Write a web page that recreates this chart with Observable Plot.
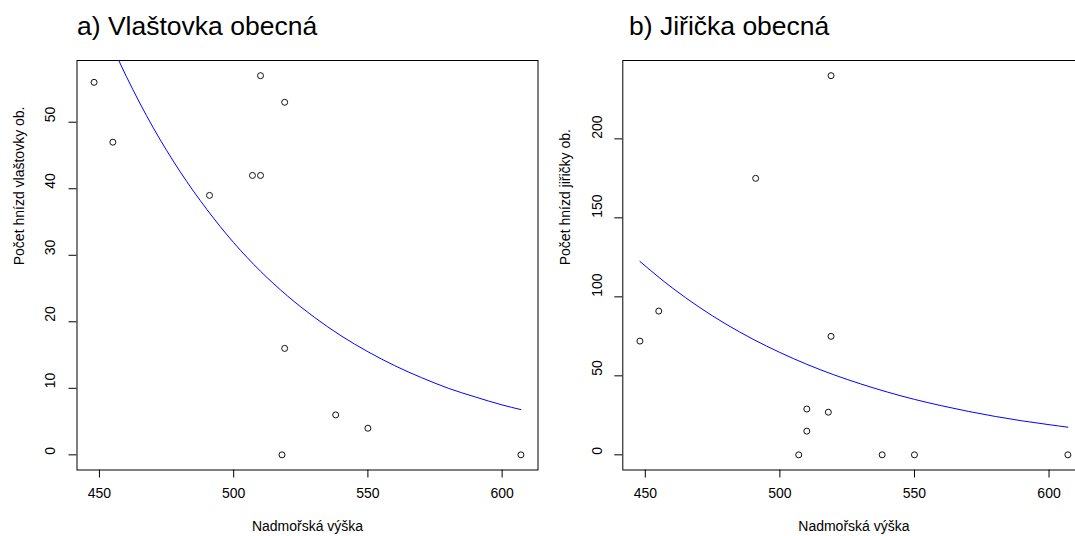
<!DOCTYPE html>
<html>
<head>
<meta charset="utf-8">
<script src="https://cdn.jsdelivr.net/npm/d3@7"></script>
<script src="https://cdn.jsdelivr.net/npm/@observablehq/plot@0.6"></script>
<style>
  html, body { margin: 0; padding: 0; background: #fff; }
  #fig { position: relative; width: 1075px; height: 536px; overflow: hidden; background: #fff;
         font-family: "Liberation Sans", Arial, sans-serif; color: #000; }
  .title { position: absolute; top: 13px; font-size: 26.5px; line-height: 26px; white-space: nowrap; }
  .panel { position: absolute; top: 45px; }
  .panel svg { max-width: none !important; display: block; }
</style>
</head>
<body>
<div id="fig"></div>
<script>
// Altitude of each site (m a.s.l.) and nest counts per species
const altitude     = [448, 455, 491, 507, 510, 510, 518, 519, 519, 538, 550, 607];
const swallowNests = [56, 47, 39, 42, 42, 57, 0, 53, 16, 6, 4, 0];
const martinNests  = [72, 91, 175, 0, 29, 15, 27, 240, 75, 0, 0, 0];

// Fitted exponential trend, sampled along the altitude range
const trendAltitude = [448, 460, 470, 480, 490, 500, 510, 520, 530, 540, 550, 560, 570, 580, 590, 600, 607];
const swallowTrend  = [67.7, 56.9, 49.2, 42.6, 36.9, 31.9, 27.6, 23.9, 20.7, 17.9, 15.5, 13.4, 11.6, 10.0, 8.7, 7.5, 6.8];
const martinTrend   = [122.4, 105.7, 93.5, 82.7, 73.2, 64.8, 57.3, 50.7, 44.9, 39.7, 35.1, 31.1, 27.5, 24.3, 21.5, 19.1, 17.5];

const xTicks = [450, 500, 550, 600];
const swallowTicks = [0, 10, 20, 30, 40, 50];
const martinTicks = [0, 50, 100, 150, 200];

const titles = ["a) Vlaštovka obecná", "b) Jiřička obecná"];
const yLabels = ["Počet hnízd vlaštovky ob.", "Počet hnízd jiřičky ob."];
const xLabel = "Nadmořská výška";

// R-style axis limits: data range padded by 4 % on each side
function padded(values) {
  const [lo, hi] = d3.extent(values);
  const pad = (hi - lo) * 0.04;
  return [lo - pad, hi + pad];
}

const FONT = "'Liberation Sans', Arial, sans-serif";

function panel({counts, trend, yTicks, yLabel, width, marginLeft, marginRight, tickDx}) {
  const pts = altitude.map((a, i) => ({a, n: counts[i]}));
  const line = trendAltitude.map((a, i) => ({a, n: trend[i]}));
  return Plot.plot({
    width,
    height: 491,
    marginTop: 15,
    marginBottom: 66.5,
    marginLeft,
    marginRight,
    style: {fontFamily: FONT, fontSize: "14px", color: "#000", background: "transparent", overflow: "visible"},
    x: {domain: padded(altitude)},
    y: {domain: padded(counts)},
    marks: [
      Plot.frame({stroke: "#000", strokeWidth: 1}),
      Plot.axisX({ticks: xTicks, tickSize: 8, tickPadding: 10, fontSize: 14, label: null}),
      Plot.axisY({ticks: yTicks, tickSize: 8, tickFormat: () => "", label: null}),
      Plot.text(yTicks, {y: d => d, text: d => String(d), frameAnchor: "left", dx: tickDx,
                         rotate: -90, fontSize: 14, fill: "#000"}),
      Plot.text([yLabel], {text: d => d, frameAnchor: "left", dx: -57.5, rotate: -90,
                           fontSize: 14, fill: "#000"}),
      Plot.text([xLabel], {text: d => d, frameAnchor: "bottom", dy: 60.5, fontSize: 14, fill: "#000"}),
      Plot.line(line, {x: "a", y: "n", stroke: "#0000ff", strokeWidth: 1, curve: "monotone-x", clip: true}),
      Plot.dot(pts, {x: "a", y: "n", r: 3, stroke: "#111", strokeWidth: 1, fill: "none"})
    ]
  });
}

const fig = document.getElementById("fig");

const specs = [
  {left: 0, titleLeft: 77, counts: swallowNests, trend: swallowTrend, yTicks: swallowTicks,
   width: 539, marginLeft: 76.5, marginRight: 1.5, tickDx: -26.5},
  {left: 538, titleLeft: 629, counts: martinNests, trend: martinTrend, yTicks: martinTicks,
   width: 548, marginLeft: 84.3, marginRight: 1.5, tickDx: -24.8}
];

specs.forEach((s, i) => {
  const t = document.createElement("div");
  t.className = "title";
  t.style.left = s.titleLeft + "px";
  t.textContent = titles[i];
  fig.appendChild(t);

  const holder = document.createElement("div");
  holder.className = "panel";
  holder.style.left = s.left + "px";
  holder.style.width = s.width + "px";
  holder.appendChild(panel({...s, yLabel: yLabels[i]}));
  fig.appendChild(holder);
});
</script>
</body>
</html>
